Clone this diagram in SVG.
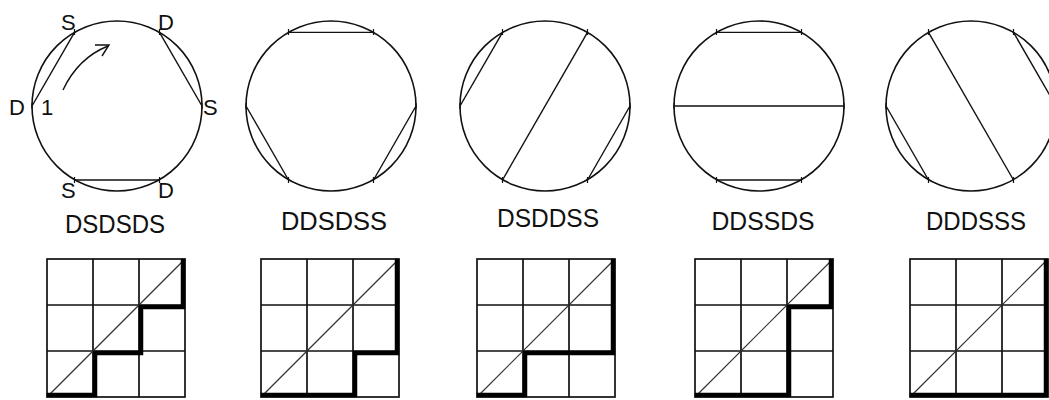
<svg xmlns="http://www.w3.org/2000/svg" width="1049" height="400" viewBox="0 0 1049 400">
<style>
.c{fill:none;stroke:#111;stroke-width:1.6}
.ch{fill:none;stroke:#111;stroke-width:1.4}
.tk{fill:none;stroke:#111;stroke-width:1.2}
.g{fill:none;stroke:#111;stroke-width:1.7}
.dg{fill:none;stroke:#333;stroke-width:1.2}
.p{fill:none;stroke:#000;stroke-width:4.5;stroke-linejoin:miter;stroke-linecap:square}
.lbl{font-family:"Liberation Sans",Arial,sans-serif;font-size:26px;fill:#111;text-anchor:middle}
.pt{font-family:"Liberation Sans",Arial,sans-serif;font-size:22px;fill:#111}
</style>
<rect width="1049" height="400" fill="#fff"/>

<g id="circle1">
<circle class="c" cx="117" cy="106" r="85"/>
<path class="tk" d="M32,103v6M74.5,29v6M159.5,29v6M202,103v6M74.5,177v6M159.5,177v6"/>
<g class="ch">
<line x1="32" y1="106" x2="74.5" y2="32.4"/>
<line x1="159.5" y1="32.4" x2="202" y2="106"/>
<line x1="74.5" y1="180" x2="159.5" y2="180"/>
</g>
<path class="ch" d="M63,90 Q78,58 108,46"/>
<path class="ch" d="M95,45 L109,45 L102,56"/>
<text class="pt" x="61" y="30">S</text>
<text class="pt" x="158" y="30">D</text>
<text class="pt" x="9" y="115">D</text>
<text class="pt" x="41" y="115">1</text>
<text class="pt" x="203" y="115">S</text>
<text class="pt" x="61" y="198">S</text>
<text class="pt" x="158" y="198">D</text>
<text class="lbl" x="115" y="233" textLength="100" lengthAdjust="spacingAndGlyphs">DSDSDS</text>
</g>

<g id="circle2">
<circle class="c" cx="331" cy="106" r="85"/>
<path class="tk" d="M246,103v6M288.5,29v6M373.5,29v6M416,103v6M288.5,177v6M373.5,177v6"/>
<g class="ch">
<line x1="288.5" y1="32.4" x2="373.5" y2="32.4"/>
<line x1="246" y1="106" x2="288.5" y2="180"/>
<line x1="416" y1="106" x2="373.5" y2="180"/>
</g>
<text class="lbl" x="334" y="230" textLength="106" lengthAdjust="spacingAndGlyphs">DDSDSS</text>
</g>

<g id="circle3">
<circle class="c" cx="545" cy="106" r="85"/>
<path class="tk" d="M460,103v6M502.5,29v6M587.5,29v6M630,103v6M502.5,177v6M587.5,177v6"/>
<g class="ch">
<line x1="460" y1="106" x2="502.5" y2="32.4"/>
<line x1="587.5" y1="32.4" x2="502.5" y2="180"/>
<line x1="630" y1="106" x2="587.5" y2="180"/>
</g>
<text class="lbl" x="548" y="227" textLength="102" lengthAdjust="spacingAndGlyphs">DSDDSS</text>
</g>

<g id="circle4">
<circle class="c" cx="759" cy="106" r="85"/>
<path class="tk" d="M674,103v6M716.5,29v6M801.5,29v6M844,103v6M716.5,177v6M801.5,177v6"/>
<g class="ch">
<line x1="716.5" y1="32.4" x2="801.5" y2="32.4"/>
<line x1="674" y1="106" x2="844" y2="106"/>
<line x1="716.5" y1="180" x2="801.5" y2="180"/>
</g>
<text class="lbl" x="763" y="230" textLength="103" lengthAdjust="spacingAndGlyphs">DDSSDS</text>
</g>

<g id="circle5">
<circle class="c" cx="971" cy="106" r="85"/>
<path class="tk" d="M886,103v6M928.5,29v6M1013.5,29v6M928.5,177v6M1013.5,177v6"/>
<g class="ch">
<line x1="1013.5" y1="32.4" x2="1056" y2="106"/>
<line x1="928.5" y1="32.4" x2="1013.5" y2="180"/>
<line x1="886" y1="106" x2="928.5" y2="180"/>
</g>
<text class="lbl" x="976" y="230" textLength="100" lengthAdjust="spacingAndGlyphs">DDDSSS</text>
</g>

<g id="grid1">
<rect class="g" x="47" y="259" width="138" height="138"/>
<path class="g" d="M93,259V397M139,259V397M47,305H185M47,351H185"/>
<line class="dg" x1="47" y1="397" x2="185" y2="259"/>
<polyline class="p" points="49,395 95,395 95,353 141,353 141,307 183,307 183,261"/>
</g>

<g id="grid2">
<rect class="g" x="261" y="259" width="138" height="138"/>
<path class="g" d="M307,259V397M353,259V397M261,305H399M261,351H399"/>
<line class="dg" x1="261" y1="397" x2="399" y2="259"/>
<polyline class="p" points="263,395 355,395 355,353 397,353 397,261"/>
</g>

<g id="grid3">
<rect class="g" x="477" y="259" width="138" height="138"/>
<path class="g" d="M523,259V397M569,259V397M477,305H615M477,351H615"/>
<line class="dg" x1="477" y1="397" x2="615" y2="259"/>
<polyline class="p" points="479,395 525,395 525,353 613,353 613,261"/>
</g>

<g id="grid4">
<rect class="g" x="695" y="259" width="138" height="138"/>
<path class="g" d="M741,259V397M787,259V397M695,305H833M695,351H833"/>
<line class="dg" x1="695" y1="397" x2="833" y2="259"/>
<polyline class="p" points="697,395 789,395 789,307 831,307 831,261"/>
</g>

<g id="grid5">
<rect class="g" x="910" y="259" width="138" height="138"/>
<path class="g" d="M956,259V397M1002,259V397M910,305H1048M910,351H1048"/>
<line class="dg" x1="910" y1="397" x2="1048" y2="259"/>
<polyline class="p" points="912,395 1046,395 1046,261"/>
</g>

<g id="connectors"></g>
</svg>
